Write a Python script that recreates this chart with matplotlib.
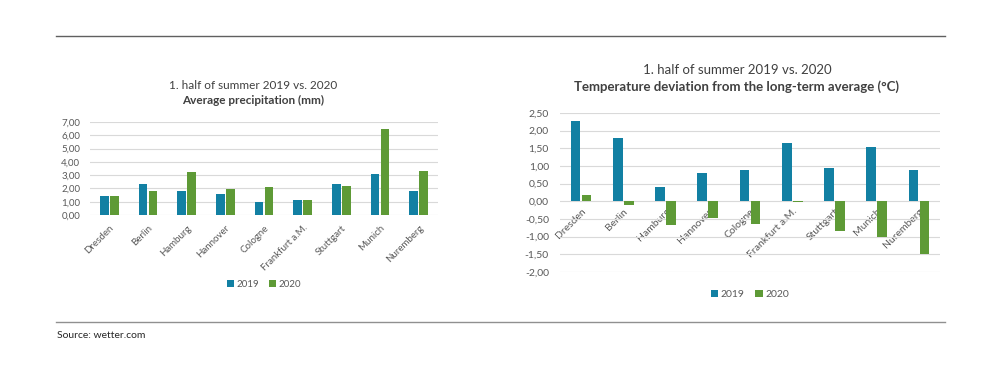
import numpy as np
import matplotlib.pyplot as plt
from matplotlib.ticker import FuncFormatter

plt.rcParams['font.family'] = ['Lato', 'DejaVu Sans']

cities = ["Dresden", "Berlin", "Hamburg", "Hannover", "Cologne",
          "Frankfurt a.M.", "Stuttgart", "Munich", "Nuremberg"]
rain_2019 = [1.45, 2.35, 1.82, 1.55, 1.00, 1.12, 2.35, 3.10, 1.80]
rain_2020 = [1.45, 1.78, 3.25, 1.95, 2.12, 1.12, 2.18, 6.45, 3.28]
temp_2019 = [2.28, 1.80, 0.40, 0.81, 0.90, 1.66, 0.93, 1.54, 0.88]
temp_2020 = [0.17, -0.10, -0.67, -0.46, -0.64, -0.01, -0.85, -1.00, -1.50]

blue = '#1280a3'
green = '#5e9a36'
txt = '#595959'
grid = '#d9d9d9'

fig = plt.figure(figsize=(10, 3.78), dpi=100)

comma = FuncFormatter(lambda v, p: f'{v:.2f}'.replace('.', ','))


def bar_chart(ax, v19, v20, ylim, step, size, axis_at_zero=False):
    x = np.arange(len(cities))
    w = 0.23
    ax.bar(x - 0.13, v19, w, color=blue, label='2019', zorder=3)
    ax.bar(x + 0.13, v20, w, color=green, label='2020', zorder=3)
    ax.set_xlim(-0.5, len(cities) - 0.5)
    ax.set_ylim(*ylim)
    for s in ax.spines.values():
        s.set_visible(False)
    if axis_at_zero:
        # category labels hang from the zero line, like in Excel
        ax.spines['bottom'].set_position(('data', 0))
    ax.set_yticks(np.arange(ylim[0], ylim[1] + step / 2, step))
    ax.yaxis.set_major_formatter(comma)
    ax.grid(axis='y', color=grid, linewidth=0.8, zorder=0)
    ax.set_xticks(x)
    ax.set_xticklabels(cities, rotation=45, ha='right', rotation_mode='anchor')
    ax.tick_params(length=0, labelsize=size, labelcolor=txt)
    return ax


# left: precipitation
ax1 = fig.add_axes([0.090, 0.4312, 0.348, 0.246])
bar_chart(ax1, rain_2019, rain_2020, (0, 7), 1, 7)
ax1.tick_params(axis='x', pad=6)
ax1.tick_params(axis='y', pad=7)
fig.text(0.253, 0.775, "1. half of summer 2019 vs. 2020", ha='center',
         va='center', fontsize=8.5, color='#404040')
fig.text(0.253, 0.733, "Average precipitation (mm)", ha='center',
         va='center', fontsize=8.5, fontweight='bold', color='#404040')
ax1.legend(loc='center', bbox_to_anchor=(0.5, -0.75), ncol=2, frameon=False,
           fontsize=7, handlelength=0.7, handleheight=0.7, columnspacing=1.0,
           handletextpad=0.3, labelcolor=txt)

# right: temperature deviation
ax2 = fig.add_axes([0.560, 0.2804, 0.380, 0.4206])
bar_chart(ax2, temp_2019, temp_2020, (-2, 2.5), 0.5, 7.5, axis_at_zero=True)
ax2.tick_params(axis='x', pad=4)
ax2.tick_params(axis='y', pad=8)
fig.text(0.737, 0.815, "1. half of summer 2019 vs. 2020", ha='center',
         va='center', fontsize=9.5, color='#404040')
fig.text(0.737, 0.772, "Temperature deviation from the long-term average (°C)",
         ha='center', va='center', fontsize=9.5, fontweight='bold', color='#404040')
ax2.legend(loc='center', bbox_to_anchor=(0.5, -0.14), ncol=2, frameon=False,
           fontsize=7.5, handlelength=0.7, handleheight=0.7, columnspacing=1.0,
           handletextpad=0.3, labelcolor=txt)

# frame lines and source
fig.add_artist(plt.Line2D([0.056, 0.945], [1 - 36 / 378] * 2, color='#606060', linewidth=1))
fig.add_artist(plt.Line2D([0.056, 0.945], [1 - 322 / 378] * 2, color='#909090', linewidth=1))
fig.text(0.057, 1 - 336 / 378, "Source: wetter.com", ha='left', va='center',
         fontsize=7.5, color='#262626')

fig.savefig('out.png', dpi=100)
